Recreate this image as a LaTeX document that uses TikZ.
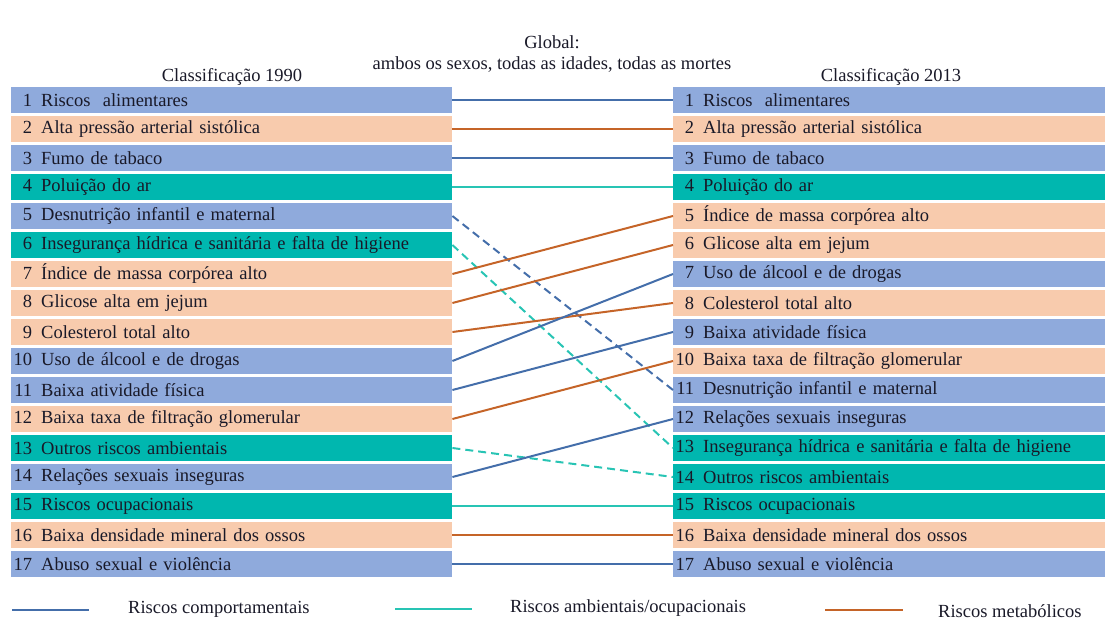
\documentclass[tikz,border=0pt]{standalone}
\usepackage{fontspec}
\setmainfont{Liberation Serif}
\usepackage{tikz}
\usetikzlibrary{positioning}

\definecolor{boxblue}{RGB}{143,170,220}
\definecolor{boxpeach}{RGB}{248,203,173}
\definecolor{boxteal}{RGB}{0,183,175}
\definecolor{lnblue}{RGB}{68,110,170}
\definecolor{lnteal}{RGB}{40,196,180}
\definecolor{lnorange}{RGB}{197,100,40}
\definecolor{inkdark}{RGB}{25,25,40}

\newcommand{\rowfont}{\fontsize{18.5}{21}\selectfont}
\newcommand{\rnum}[1]{\makebox[18pt][r]{#1}\hspace{9pt}}

\tikzset{
  rowbox/.style={draw=none, minimum height=25.5pt, inner xsep=3pt, inner ysep=0pt,
    anchor=west, align=left, font=\rowfont, text=inkdark},
  lbox/.style={rowbox, text width=435pt},
  rbox/.style={rowbox, text width=426pt},
  blueln/.style={draw=lnblue, line width=2pt},
  tealln/.style={draw=lnteal, line width=2pt},
  orangeln/.style={draw=lnorange, line width=2pt},
  bluedash/.style={blueln, dash pattern=on 8pt off 5pt},
  tealdash/.style={tealln, dash pattern=on 8pt off 5pt},
  headtxt/.style={font=\rowfont, text=inkdark, inner sep=0pt}
}

\begin{document}
\begin{tikzpicture}[x=1pt, y=-1pt]
    \useasboundingbox (0,0) rectangle (1105,621);
    % titulos
    \node[headtxt] (glob) at (552,42) {Global:};
    \node[headtxt] (sub) at (552,65) {ambos os sexos, todas as idades, todas as mortes};
    \node[headtxt] (h90) at (232,77) {Classificação 1990};
    \node[headtxt] (h13) at (891,77) {Classificação 2013};
    % classificacao 1990
    \foreach \i/\c/\t in {1/boxblue/{Riscos\ \ alimentares},
        2/boxpeach/{Alta pressão arterial sistólica},
        3/boxblue/{Fumo de tabaco},
        4/boxteal/{Poluição do ar},
        5/boxblue/{Desnutrição infantil e maternal},
        6/boxteal/{Insegurança hídrica e sanitária e falta de higiene},
        7/boxpeach/{Índice de massa corpórea alto},
        8/boxpeach/{Glicose alta em jejum},
        9/boxpeach/{Colesterol total alto},
        10/boxblue/{Uso de álcool e de drogas},
        11/boxblue/{Baixa atividade física},
        12/boxpeach/{Baixa taxa de filtração glomerular},
        13/boxteal/{Outros riscos ambientais},
        14/boxblue/{Relações sexuais inseguras},
        15/boxteal/{Riscos ocupacionais},
        16/boxpeach/{Baixa densidade mineral dos ossos},
        17/boxblue/{Abuso sexual e violência}}
        \node[lbox, fill=\c] (L\i) at (11,{100+29*(\i-1)}) {\rnum{\i}\t};
    % classificacao 2013
    \foreach \i/\c/\t in {1/boxblue/{Riscos\ \ alimentares},
        2/boxpeach/{Alta pressão arterial sistólica},
        3/boxblue/{Fumo de tabaco},
        4/boxteal/{Poluição do ar},
        5/boxpeach/{Índice de massa corpórea alto},
        6/boxpeach/{Glicose alta em jejum},
        7/boxblue/{Uso de álcool e de drogas},
        8/boxpeach/{Colesterol total alto},
        9/boxblue/{Baixa atividade física},
        10/boxpeach/{Baixa taxa de filtração glomerular},
        11/boxblue/{Desnutrição infantil e maternal},
        12/boxblue/{Relações sexuais inseguras},
        13/boxteal/{Insegurança hídrica e sanitária e falta de higiene},
        14/boxteal/{Outros riscos ambientais},
        15/boxteal/{Riscos ocupacionais},
        16/boxpeach/{Baixa densidade mineral dos ossos},
        17/boxblue/{Abuso sexual e violência}}
        \node[rbox, fill=\c] (R\i) at (673,{100+29*(\i-1)}) {\rnum{\i}\t};
    % ligacoes
    \foreach \a/\b/\s in {1/1/blueln, 2/2/orangeln, 3/3/blueln, 4/4/tealln,
        5/11/bluedash, 6/13/tealdash, 7/5/orangeln, 8/6/orangeln, 9/8/orangeln,
        10/7/blueln, 11/9/blueln, 12/10/orangeln, 13/14/tealdash, 14/12/blueln,
        15/15/tealln, 16/16/orangeln, 17/17/blueln}
        \draw[\s] (L\a.east) -- (R\b.west);
    % legenda
    \coordinate (kb1) at (12,610);
    \coordinate (kb2) at (89,610);
    \draw[blueln] (kb1) -- (kb2);
    \node[headtxt, anchor=west] (kbt) at (128,609) {Riscos comportamentais};
    \coordinate (kt1) at (395,609);
    \coordinate (kt2) at (472,609);
    \draw[tealln] (kt1) -- (kt2);
    \node[headtxt, anchor=west] (ktt) at (510,608) {Riscos ambientais/ocupacionais};
    \coordinate (ko1) at (825,610);
    \coordinate (ko2) at (903,610);
    \draw[orangeln] (ko1) -- (ko2);
    \node[headtxt, anchor=west] (kot) at (938,611) {Riscos metabólicos};
\end{tikzpicture}
\end{document}
